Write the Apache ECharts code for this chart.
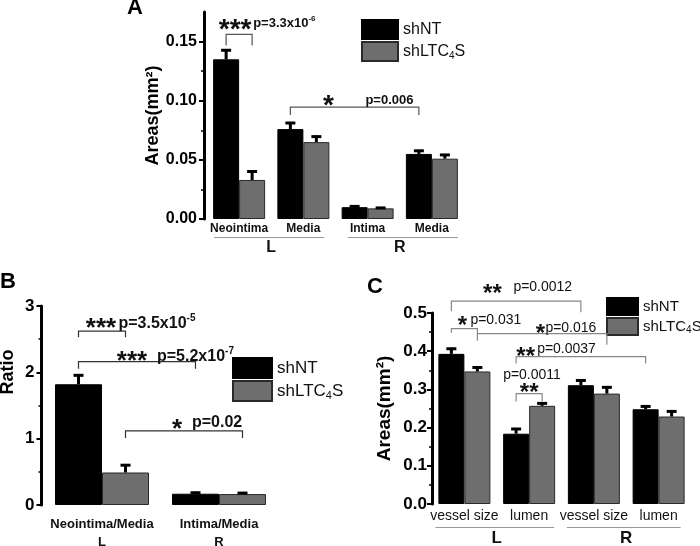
<!DOCTYPE html>
<html><head><meta charset="utf-8">
<script src="https://cdn.jsdelivr.net/npm/echarts@6/dist/echarts.min.js"></script>
<style>html,body{margin:0;padding:0;background:#fff}#main{width:700px;height:546px}</style>
</head><body><div id="main"></div>
<script>
// ---------------- DATA ----------------
const seriesNames = ['shNT', 'shLTC4S'];

// Panel A
const catsA = ['Neointima', 'Media', 'Intima', 'Media'];
const groupsA = ['L', 'R'];
const aShNT = [0.135, 0.076, 0.010, 0.055];
const aShNTErr = [0.0085, 0.006, 0.0015, 0.0035];
const aShLTC = [0.033, 0.065, 0.009, 0.051];
const aShLTCErr = [0.008, 0.0055, 0.0012, 0.004];
const ticksA = [0, 0.05, 0.10, 0.15];

// Panel B
const catsB = ['Neointima/Media', 'Intima/Media'];
const groupsB = ['L', 'R'];
const bShNT = [1.82, 0.17];
const bShNTErr = [0.15, 0.03];
const bShLTC = [0.49, 0.165];
const bShLTCErr = [0.125, 0.03];
const ticksB = [0, 1, 2, 3];

// Panel C
const catsC = ['vessel size', 'lumen', 'vessel size', 'lumen'];
const groupsC = ['L', 'R'];
const cShNT = [0.393, 0.184, 0.311, 0.248];
const cShNTErr = [0.016, 0.015, 0.015, 0.010];
const cShLTC = [0.347, 0.257, 0.289, 0.229];
const cShLTCErr = [0.013, 0.009, 0.019, 0.016];
const ticksC = [0, 0.1, 0.2, 0.3, 0.4, 0.5];

// Significance brackets: from [category, series] to [category, series] at value level
const sigA = [
  { from: [0, 0], to: [0, 1], level: 0.156, stars: '***', p: 'p=3.3x10', exp: '-6' },
  { from: [1, 0], to: [3, 0], level: 0.0946, stars: '*', p: 'p=0.006' }
];
const sigB = [
  { from: [0, 0], to: [0, 1], level: 2.62, stars: '***', p: 'p=3.5x10', exp: '-5' },
  { from: [0, 0], to: [1, 0], level: 2.16, stars: '***', p: 'p=5.2x10', exp: '-7' },
  { from: [0, 1], to: [1, 1], level: 1.116, stars: '*', p: 'p=0.02' }
];
const sigC = [
  { from: [0, 0], to: [2, 0], level: 0.531, stars: '**', p: 'p=0.0012' },
  { from: [0, 0], to: [0, 1], level: 0.459, stars: '*', p: 'p=0.031' },
  { from: [0, 1], to: [2, 1], level: 0.446, stars: '*', p: 'p=0.016' },
  { from: [1, 0], to: [3, 0], level: 0.386, stars: '**', p: 'p=0.0037' },
  { from: [1, 0], to: [1, 1], level: 0.289, stars: '**', p: 'p=0.0011' }
];

// ---------------- LAYOUT / STYLE ----------------
const FONT = '"Liberation Sans", Arial, Helvetica, sans-serif';
const BW = [26, 47, 26];
// text offsets (px) relative to bracket left end
const sigLayoutA = [
  { legs: [11, 11], sx: 9, sy: -11, px: 27, py: -11 },
  { legs: [8, 8], sx: 38, sy: -7, px: 75, py: -7 }
];
const sigLayoutB = [
  { legs: [6, 6], sx: 22.5, sy: -8, px: 40, py: -8 },
  { legs: [7, 7], sx: 53.5, sy: -6, px: 78.5, py: -5 },
  { legs: [7, 7], sx: 51.5, sy: -7, px: 66.5, py: -8 }
];
const sigLayoutC = [
  { legs: [10, 11], sx: 41, sy: -12, px: 62, py: -14 },
  { legs: [4, 12], sx: 11, sy: -8, px: 19, py: -9 },
  { legs: [0, 11], sx: 63, sy: -5, px: 68, py: -5 },
  { legs: [7, 7], sx: 9.5, sy: -5, px: 21, py: -7 },
  { legs: [8, 8], sx: 13, sy: -6, px: -13, py: -18 }
];
const panelStyle = [
  { starSize: 28, pSize: 13, pWeight: 'bold', bracket: '#555', bw: 1.2 },
  { starSize: 26, pSize: 16, pWeight: 'bold', bracket: '#333', bw: 1.2 },
  { starSize: 24, pSize: 14, pWeight: 'normal', bracket: '#888', bw: 1.2 }
];

const chart = echarts.init(document.getElementById('main'), null, { renderer: 'canvas' });

function legendFmt(name) { return name === 'shLTC4S' ? 'shLTC{sub|4}S' : name; }
function makeLegend(left, top, w, h, fs) {
  return {
    data: seriesNames, orient: 'vertical', left: left, top: top, padding: 0,
    itemWidth: w, itemHeight: h, itemGap: 1, icon: 'rect', selectedMode: false,
    formatter: legendFmt,
    textStyle: {
      fontFamily: FONT, fontSize: fs, color: '#111', lineHeight: h,
      rich: { sub: { fontFamily: FONT, fontSize: Math.round(fs * 0.65), verticalAlign: 'bottom', lineHeight: 2, color: '#111' } }
    }
  };
}
function makeY(g, max, interval, ticks, digits, fs, margin, offset, name, nameGap, nameSize, namePad) {
  return {
    type: 'value', gridIndex: g, min: 0, max: max, interval: interval, offset: offset,
    splitLine: { show: false },
    axisLine: { show: true, lineStyle: { color: '#000', width: 3 } },
    axisTick: { show: true, inside: false, length: 5, lineStyle: { color: '#000', width: 2 }, customValues: ticks },
    minorTick: { show: true, splitNumber: 2, length: 3, lineStyle: { color: '#000', width: 1.5 } },
    axisLabel: { customValues: ticks, margin: margin, fontFamily: FONT, fontSize: fs, fontWeight: 'bold', color: '#000',
      formatter: v => v.toFixed(digits) },
    name: name, nameLocation: 'middle', nameRotate: 90, nameGap: nameGap,
    nameTextStyle: { fontFamily: FONT, fontSize: nameSize, fontWeight: 'bold', color: '#000', padding: namePad || 0 }
  };
}
function makeX(g, cats, fs, weight, margin, fmt, lh) {
  return {
    type: 'category', gridIndex: g, data: cats,
    axisLine: { show: false }, axisTick: { show: false },
    axisLabel: { interval: 0, margin: margin, fontFamily: FONT, fontSize: fs, fontWeight: weight, color: '#111',
      lineHeight: lh || fs, formatter: fmt }
  };
}
function barSeries(g, name, data) {
  const gray = name !== 'shNT';
  return {
    type: 'bar', name: name, xAxisIndex: g, yAxisIndex: g, data: data,
    barWidth: BW[g], barGap: '0%',
    itemStyle: { color: gray ? '#6e6e6e' : '#000', borderColor: gray ? '#2a2a2a' : '#000', borderWidth: 1 },
    emphasis: { disabled: true }, z: 2
  };
}
function errSeries(g, sIdx, vals, errs) {
  const off = (sIdx === 0 ? -1 : 1) * BW[g] / 2;
  return {
    type: 'custom', xAxisIndex: g, yAxisIndex: g, z: 3, silent: true,
    data: vals.map((v, i) => [i, v, errs[i]]),
    encode: { x: 0, y: 1 },
    renderItem: function (params, api) {
      const c = api.value(0), v = api.value(1), e = api.value(2);
      const b = api.coord([c, v]), t = api.coord([c, v + e]);
      const x = b[0] + off;
      return { type: 'group', children: [
        { type: 'line', shape: { x1: x, y1: b[1], x2: x, y2: t[1] }, style: { stroke: '#000', lineWidth: 3 } },
        { type: 'line', shape: { x1: x - 5, y1: t[1] + 1, x2: x + 5, y2: t[1] + 1 }, style: { stroke: '#000', lineWidth: 3 } }
      ] };
    }
  };
}

const option = {
  animation: false,
  backgroundColor: '#fff',
  grid: [
    { left: 207, top: 12, width: 257, height: 207, outerBoundsMode: 'none', containLabel: false },
    { left: 43.5, top: 306, width: 234, height: 199, outerBoundsMode: 'none', containLabel: false },
    { left: 432, top: 313, width: 259, height: 191, outerBoundsMode: 'none', containLabel: false }
  ],
  legend: [
    makeLegend(361, 19, 36, 19, 16),
    makeLegend(232, 357, 39, 20, 17),
    makeLegend(606, 297, 31, 17, 15)
  ],
  xAxis: [
    makeX(0, catsA, 12, 'bold', 4),
    makeX(1, catsB, 13, 'bold', 10, (v, i) => v + '\n' + groupsB[i], 18),
    makeX(2, catsC, 14, 'normal', 5)
  ],
  yAxis: [
    makeY(0, 0.175, 0.05, ticksA, 2, 16, 7, 3, 'Areas(mm²)', 36, 18),
    makeY(1, 3, 1, ticksB, 0, 17, 7, 2, 'Ratio', 24, 18, [0, 0, 0, 67]),
    makeY(2, 0.5, 0.1, ticksC, 1, 17, 5, 0, 'Areas(mm²)', 38, 19)
  ],
  series: [
    barSeries(0, 'shNT', aShNT), barSeries(0, 'shLTC4S', aShLTC),
    barSeries(1, 'shNT', bShNT), barSeries(1, 'shLTC4S', bShLTC),
    barSeries(2, 'shNT', cShNT), barSeries(2, 'shLTC4S', cShLTC),
    errSeries(0, 0, aShNT, aShNTErr), errSeries(0, 1, aShLTC, aShLTCErr),
    errSeries(1, 0, bShNT, bShNTErr), errSeries(1, 1, bShLTC, bShLTCErr),
    errSeries(2, 0, cShNT, cShNTErr), errSeries(2, 1, cShLTC, cShLTCErr)
  ]
};
chart.setOption(option);

// ---------------- ANNOTATIONS ----------------
function px(g, cat, ser, val) {
  const p = chart.convertToPixel({ xAxisIndex: g, yAxisIndex: g }, [cat, val]);
  return [p[0] + (ser === 0 ? -1 : 1) * BW[g] / 2, p[1]];
}
function txt(x, y, text, size, weight, align, extra) {
  return Object.assign({ type: 'text', x: x, y: y, z: 50, silent: true,
    style: Object.assign({ text: text, fontFamily: FONT, fontSize: size, fontWeight: weight, fill: '#111',
      align: align, textAlign: align, verticalAlign: 'middle', textVerticalAlign: 'middle' }, extra || {}) });
}
const graphics = [];
function addSig(g, sigs, lays) {
  const ps = panelStyle[g];
  sigs.forEach((s, i) => {
    const L = lays[i];
    const a = px(g, s.from[0], s.from[1], s.level);
    const b = px(g, s.to[0], s.to[1], s.level);
    const y = a[1];
    graphics.push({ type: 'polyline', z: 40, silent: true,
      shape: { points: [[a[0], y + L.legs[0]], [a[0], y], [b[0], y], [b[0], y + L.legs[1]]] },
      style: { stroke: ps.bracket, lineWidth: ps.bw, fill: 'none' } });
    graphics.push(txt(a[0] + L.sx, y + L.sy + 0.23 * ps.starSize, s.stars, ps.starSize, 'bold', 'center'));
    const rich = {
      p: { fontFamily: FONT, fontSize: ps.pSize, fontWeight: ps.pWeight, lineHeight: ps.pSize + 4, fill: '#111', color: '#111' },
      e: { fontFamily: FONT, fontSize: Math.round(ps.pSize * 0.65), fontWeight: ps.pWeight, lineHeight: Math.round(ps.pSize * 0.7), verticalAlign: 'top', fill: '#111', color: '#111' }
    };
    const t = s.exp ? '{p|' + s.p + '}{e|' + s.exp + '}' : '{p|' + s.p + '}';
    graphics.push(txt(a[0] + L.px, y + L.py, t, ps.pSize, ps.pWeight, 'left', { rich: rich }));
  });
}
addSig(0, sigA, sigLayoutA);
addSig(1, sigB, sigLayoutB);
addSig(2, sigC, sigLayoutC);

// group underlines and L / R labels
function addGroups(g, groups, lineY, labelY, offs, fs) {
  const c = [0, 1, 2, 3].map(i => chart.convertToPixel({ xAxisIndex: g, yAxisIndex: g }, [i, 0])[0]);
  const base = chart.convertToPixel({ xAxisIndex: g, yAxisIndex: g }, [0, 0])[1];
  [[0, 1], [2, 3]].forEach((pair, k) => {
    const x1 = c[pair[0]] + offs[k][0], x2 = c[pair[1]] + offs[k][1];
    graphics.push({ type: 'line', z: 40, silent: true,
      shape: { x1: x1, y1: base + lineY + 0.5, x2: x2, y2: base + lineY + 0.5 },
      style: { stroke: '#999', lineWidth: 1 } });
    graphics.push(txt((c[pair[0]] + c[pair[1]]) / 2, base + labelY, groups[k], fs, 'bold', 'center'));
  });
}
addGroups(0, groupsA, 18, 29, [[-25, 21], [-20, 26]], 16);
addGroups(2, groupsC, 23, 34, [[-29, 25], [-27, 22]], 17);

// panel letters
graphics.push(txt(135, 8, 'A', 22, 'bold', 'center', { fill: '#000' }));
graphics.push(txt(8, 282, 'B', 22, 'bold', 'center', { fill: '#000' }));
graphics.push(txt(375, 287, 'C', 22, 'bold', 'center', { fill: '#000' }));

chart.setOption({ graphic: graphics });
</script></body></html>
